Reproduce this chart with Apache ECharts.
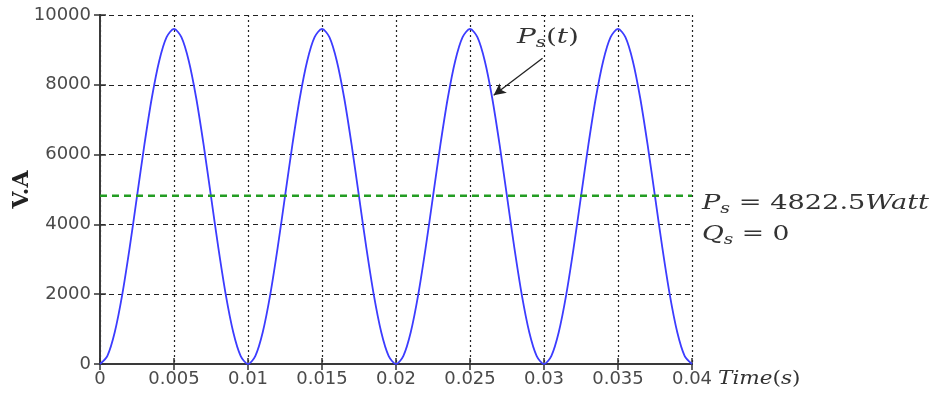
<!DOCTYPE html>
<html><head><meta charset="utf-8">
<script src="https://cdn.jsdelivr.net/npm/echarts@6/dist/echarts.min.js"></script>
<style>html,body{margin:0;padding:0;background:#fff}#c{width:940px;height:397px}</style>
</head><body><div id="c"></div>
<script>
const times = [0,0.0005,0.001,0.0015,0.002,0.0025,0.003,0.0035,0.004,0.0045,0.005,0.0055,0.006,0.0065,0.007,0.0075,0.008,0.0085,0.009,0.0095,
0.01,0.0105,0.011,0.0115,0.012,0.0125,0.013,0.0135,0.014,0.0145,0.015,0.0155,0.016,0.0165,0.017,0.0175,0.018,0.0185,0.019,0.0195,
0.02,0.0205,0.021,0.0215,0.022,0.0225,0.023,0.0235,0.024,0.0245,0.025,0.0255,0.026,0.0265,0.027,0.0275,0.028,0.0285,0.029,0.0295,
0.03,0.0305,0.031,0.0315,0.032,0.0325,0.033,0.0335,0.034,0.0345,0.035,0.0355,0.036,0.0365,0.037,0.0375,0.038,0.0385,0.039,0.0395,0.04];
const powerPs = [0,235,917,1979,3317,4800,6283,7621,8683,9365,9600,9365,8683,7621,6283,4800,3317,1979,917,235,
0,235,917,1979,3317,4800,6283,7621,8683,9365,9600,9365,8683,7621,6283,4800,3317,1979,917,235,
0,235,917,1979,3317,4800,6283,7621,8683,9365,9600,9365,8683,7621,6283,4800,3317,1979,917,235,
0,235,917,1979,3317,4800,6283,7621,8683,9365,9600,9365,8683,7621,6283,4800,3317,1979,917,235,0];
const avgPs = 4822.5;
const xTicks = {min:0, max:0.04, step:0.005};
const yTicks = {min:0, max:10000, step:2000};
const yAxisTitle = 'V.A';

const chart = echarts.init(document.getElementById('c'));
const lineData = times.map((t,i)=>[t,powerPs[i]]);
const labelFont = {fontFamily:'DejaVu Sans, sans-serif', fontSize:18, color:'#4a4a4a'};
const frame = {color:'#3a3a3a', width:2};
const serif = 'DejaVu Serif, serif';
function richStyles(fs){
  return {p:{fontFamily:serif, fontStyle:'italic', fontSize:fs, fill:'#333'},
          s:{fontFamily:serif, fontStyle:'italic', fontSize:Math.round(fs*0.7), fill:'#333', padding:[Math.round(fs*0.5),0,0,0]},
          n:{fontFamily:serif, fontSize:fs, fill:'#333'}};
}
chart.setOption({
  animation:false,
  grid:{left:100, top:15, right:248, bottom:33, show:false, containLabel:false, outerBoundsMode:'none'},
  xAxis:[{type:'value', min:xTicks.min, max:xTicks.max, interval:xTicks.step,
    axisLine:{show:true, onZero:false, lineStyle:frame},
    axisTick:{show:true, inside:true, length:6, lineStyle:{color:'#333', width:1.5}},
    axisLabel:Object.assign({margin:6, formatter:v=>String(+v.toFixed(3))}, labelFont),
    splitLine:{show:true, lineStyle:{color:'#222', type:[2,3], width:1.2}}},
    {type:'value', position:'top', min:xTicks.min, max:xTicks.max, interval:xTicks.step,
    axisLine:{show:true, lineStyle:frame},
    axisTick:{show:true, inside:true, length:6, lineStyle:{color:'#333', width:1.5}},
    axisLabel:{show:false}, splitLine:{show:false}}],
  yAxis:[{type:'value', min:yTicks.min, max:yTicks.max, interval:yTicks.step,
    name:yAxisTitle, nameLocation:'middle', nameGap:67, nameRotate:90, nameMoveOverlap:false,
    nameTextStyle:{fontFamily:serif, fontWeight:'bold', fontSize:22, color:'#222'},
    axisLine:{show:true, lineStyle:frame},
    axisTick:{show:true, inside:true, length:6, lineStyle:{color:'#333', width:1.5}},
    axisLabel:Object.assign({margin:9, formatter:v=>String(v)}, labelFont),
    splitLine:{show:true, lineStyle:{color:'#222', type:[5,4], width:1.2}}},
    {type:'value', position:'right', min:yTicks.min, max:yTicks.max, interval:yTicks.step,
    axisLine:{show:true, lineStyle:frame},
    axisTick:{show:true, inside:true, length:6, lineStyle:{color:'#333', width:1.5}},
    axisLabel:{show:false}, splitLine:{show:false}}],
  series:[
    {type:'line', data:lineData, smooth:0.3, showSymbol:false, lineStyle:{color:'#3c3cff', width:1.8}, z:3,
     markLine:{silent:true, symbol:['none','arrow'], symbolSize:[9,12], label:{show:false},
       lineStyle:{color:'#222', width:1.3, type:'solid'},
       data:[[{coord:[0.0299,8760]},{coord:[0.0266,7700]}]]}},
    {type:'line', data:[[xTicks.min,avgPs],[xTicks.max,avgPs]], showSymbol:false,
     lineStyle:{color:'#239d23', width:2.5, type:[7,5]}, z:4}
  ],
  graphic:[
    {type:'text', x:517, y:26, scaleX:1.4, style:{rich:richStyles(20), text:'{p|P}{s|s}{n|(}{p|t}{n|)}'}},
    {type:'text', x:702, y:192, scaleX:1.36, style:{rich:richStyles(20), text:'{p|P}{s|s}{n| = 4822.5}{p|Watt}'}},
    {type:'text', x:702, y:223, scaleX:1.33, style:{rich:richStyles(20), text:'{p|Q}{s|s}{n| = 0}'}},
    {type:'text', x:718, y:370, scaleX:1.2, style:{rich:richStyles(18), text:'{p|Time}{n|(}{p|s}{n|)}'}}
  ]
});
</script></body></html>
